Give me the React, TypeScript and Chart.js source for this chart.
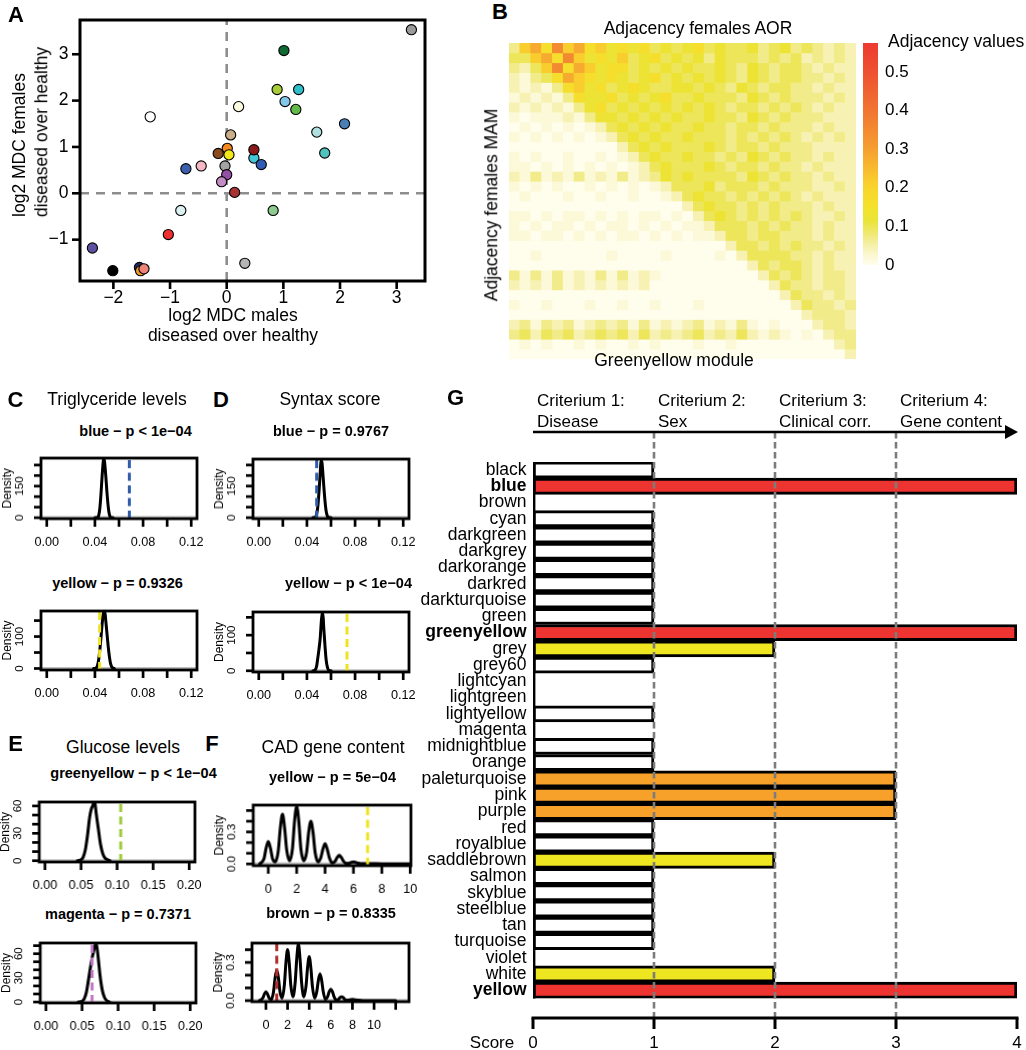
import React, { useEffect, useRef } from 'react';
import { Chart, registerables } from 'chart.js';

Chart.register(...registerables);

const FONT = '"Liberation Sans", Arimo, Arial, Helvetica, sans-serif';
const f = (size: number, bold = false) => `${bold ? 'bold ' : ''}${size}px ${FONT}`;

/* ================= Panel A data ================= */
const moduleNamesA = ['grey', 'darkgreen', 'greenyellow', 'darkturquoise', 'skyblue', 'green', 'lightyellow', 'white', 'steelblue', 'paleturquoise', 'turquoise', 'tan', 'darkorange', 'saddlebrown', 'yellow', 'cyan', 'darkred', 'royalblue', 'blue', 'pink', 'grey60', 'purple', 'violet', 'brown', 'lightcyan', 'lightgreen', 'red', 'magenta', 'black', 'midnightblue', 'orange', 'salmon', 'darkgrey'];
const maleMDC = [3.26, 1.01, 0.89, 1.27, 1.03, 1.22, 0.21, -1.35, 2.08, 1.59, 1.73, 0.07, 0.01, -0.15, 0.04, 0.48, 0.48, 0.61, -0.72, -0.45, -0.03, 0.0, -0.09, 0.14, -0.81, 0.82, -1.03, -2.37, -2.01, -1.54, -1.52, -1.46, 0.32];
const femaleMDC = [3.53, 3.08, 2.24, 2.24, 1.98, 1.81, 1.87, 1.65, 1.5, 1.32, 0.87, 1.26, 0.97, 0.86, 0.83, 0.76, 0.94, 0.62, 0.53, 0.59, 0.59, 0.4, 0.25, 0.02, -0.37, -0.37, -0.89, -1.18, -1.67, -1.6, -1.67, -1.63, -1.51];
const moduleColorsA = ['#9A9A9A', '#0E6A30', '#A6CC38', '#2EBFC9', '#82C8EA', '#62BB47', '#FCFAE0', '#FFFFFF', '#4A7FB5', '#B0DFE2', '#4FC3BC', '#C9AE8A', '#F5891F', '#8A4B1F', '#F4E71A', '#45C6D8', '#8B1A1A', '#2F5DB5', '#3B5EAD', '#F5B7C5', '#A3A3A3', '#9450A5', '#C38CC5', '#A83333', '#DDF1F2', '#8DCA8D', '#EE3030', '#5F4FA0', '#000000', '#1C2B6A', '#F49A2A', '#EF8579', '#B5B5B5'];
const aXTicks = [-2, -1, 0, 1, 2, 3];
const aXTickLabels = ['\u22122', '\u22121', '0', '1', '2', '3'];
const aYTicks = [-1, 0, 1, 2, 3];
const aYTickLabels = ['\u22121', '0', '1', '2', '3'];

/* ================= Panel B data ================= */
// each digit is an adjacency level (index into adjLevels), one string per row of the module
const adjacencyRows = [
  '37869786' + '75656454' + '56454453' + '45343232',
  '44786975' + '65745645' + '45354443' + '43423232',
  '32479687' + '56645454' + '54454354' + '34432322',
  '21346876' + '56545645' + '45454354' + '34433232',
  '21213675' + '64565445' + '54543543' + '44332322',
  '12121365' + '56454564' + '45444354' + '34333232',
  '21212135' + '64545454' + '54543443' + '43432322',
  '10111213' + '55454545' + '44544354' + '34333222',
  '01010101' + '24545454' + '45443443' + '43332322',
  '10101010' + '12454544' + '54443434' + '34323232',
  '00000000' + '00245454' + '44543443' + '43332222',
  '10100100' + '10124544' + '54434354' + '34332322',
  '11010101' + '01012454' + '44543443' + '43323222',
  '21312131' + '21312354' + '54444354' + '34332322',
  '10101001' + '01010124' + '44534443' + '43332232',
  '01000100' + '10010012' + '45443434' + '34323222',
  '00000000' + '00000000' + '24544343' + '43332322',
  '11010110' + '10101101' + '02454343' + '43432232',
  '10101101' + '01101010' + '11244434' + '34332322',
  '11011010' + '10110101' + '01124434' + '43332322',
  '00000000' + '00000000' + '00002443' + '43433232',
  '00100000' + '01000010' + '00010244' + '44332322',
  '00000000' + '00000000' + '00000024' + '34432322',
  '31313121' + '31312100' + '00000002' + '43432332',
  '21213121' + '21212000' + '00000000' + '24332332',
  '00000000' + '00000000' + '00000000' + '02433232',
  '10010001' + '00100100' + '01000000' + '00243323',
  '00000000' + '00000000' + '00000000' + '00023332',
  '23132312' + '32313121' + '23121310' + '10002332',
  '34243423' + '43424232' + '34232421' + '21010233',
  '01010010' + '10010100' + '01001000' + '00000023',
  '00000000' + '00000000' + '00000000' + '00000002',
];
const adjLevels = [0, 0.018, 0.045, 0.07, 0.095, 0.125, 0.165, 0.215, 0.28, 0.35];
const adjScaleMax = 0.575;
const adjTicks = [0, 0.1, 0.2, 0.3, 0.4, 0.5];
const adjTickLabels = ['0', '0.1', '0.2', '0.3', '0.4', '0.5'];
const adjStops: [number, string][] = [
  [0, '#FFFDEB'], [0.03, '#FAF6CC'], [0.06, '#F3EE9C'], [0.09, '#EEE762'], [0.115, '#EAE438'],
  [0.15, '#F3E22C'], [0.2, '#F9D52C'], [0.25, '#F8BA2E'], [0.3, '#F59F31'], [0.4, '#F17531'],
  [0.5, '#EE5131'], [0.575, '#EE3A30'],
];

/* ================= Panels C-F data ================= */
const trigBlueX = [0.04, 0.042, 0.043, 0.044, 0.045, 0.046, 0.047, 0.0475, 0.048, 0.049, 0.05, 0.051, 0.052, 0.053, 0.055];
const trigBlueY = [0, 1, 8, 40, 110, 200, 270, 280, 265, 200, 120, 55, 15, 3, 0];
const trigBlueObs = 0.0686;
const trigYellowX = [0.039, 0.041, 0.042, 0.043, 0.044, 0.045, 0.046, 0.047, 0.0478, 0.0485, 0.049, 0.05, 0.051, 0.052, 0.053, 0.054, 0.056];
const trigYellowY = [0, 2, 8, 25, 55, 95, 140, 172, 178, 170, 150, 110, 70, 38, 15, 5, 0];
const trigYellowObs = 0.0439;
const syntaxBlueX = [0.045, 0.047, 0.048, 0.049, 0.05, 0.051, 0.0518, 0.0525, 0.053, 0.054, 0.055, 0.056, 0.057, 0.058, 0.06];
const syntaxBlueY = [0, 3, 15, 50, 120, 210, 270, 262, 230, 150, 80, 30, 8, 1, 0];
const syntaxBlueObs = 0.0481;
const syntaxYellowX = [0.045, 0.047, 0.048, 0.049, 0.05, 0.051, 0.052, 0.0527, 0.0535, 0.054, 0.055, 0.056, 0.057, 0.058, 0.06];
const syntaxYellowY = [0, 3, 12, 35, 60, 90, 140, 163, 150, 120, 70, 30, 10, 2, 0];
const syntaxYellowObs = 0.0733;
const glucoseGreenyellowX = [0.045, 0.05, 0.053, 0.056, 0.059, 0.062, 0.064, 0.066, 0.068, 0.0695, 0.071, 0.074, 0.077, 0.08, 0.083, 0.087, 0.09];
const glucoseGreenyellowY = [0, 1, 4, 12, 28, 48, 56, 60, 64, 62, 52, 35, 18, 8, 3, 1, 0];
const glucoseGreenyellowObs = 0.105;
const glucoseMagentaX = [0.045, 0.05, 0.053, 0.056, 0.059, 0.062, 0.064, 0.066, 0.068, 0.0695, 0.071, 0.073, 0.075, 0.078, 0.081, 0.084, 0.088];
const glucoseMagentaY = [0, 1, 4, 12, 28, 45, 55, 63, 70, 73, 66, 50, 33, 15, 6, 2, 0];
const glucoseMagentaObs = 0.0639;
const cadYellowX = [-0.6, -0.3, -0.15, 0, 0.15, 0.3, 0.5, 0.7, 0.85, 1, 1.15, 1.3, 1.5, 1.7, 1.85, 2, 2.15, 2.3, 2.5, 2.7, 2.85, 3, 3.15, 3.3, 3.5, 3.7, 3.85, 4, 4.15, 4.3, 4.5, 4.7, 4.85, 5, 5.15, 5.3, 5.5, 5.7, 5.85, 6, 6.15, 6.3, 6.5, 7, 8, 9, 10];
const cadYellowY = [0, 0.05, 0.15, 0.21, 0.15, 0.05, 0.02, 0.12, 0.34, 0.465, 0.34, 0.13, 0.03, 0.14, 0.4, 0.54, 0.4, 0.14, 0.03, 0.11, 0.3, 0.4, 0.3, 0.11, 0.02, 0.06, 0.14, 0.19, 0.14, 0.06, 0.01, 0.025, 0.06, 0.08, 0.06, 0.025, 0.005, 0.008, 0.016, 0.02, 0.016, 0.008, 0.003, 0.003, 0.001, 0, 0];
const cadYellowObs = 7;
const cadBrownX = [-0.6, -0.3, -0.15, 0, 0.15, 0.3, 0.5, 0.7, 0.85, 1, 1.15, 1.3, 1.5, 1.7, 1.85, 2, 2.15, 2.3, 2.5, 2.7, 2.85, 3, 3.15, 3.3, 3.5, 3.7, 3.85, 4, 4.15, 4.3, 4.5, 4.7, 4.85, 5, 5.15, 5.3, 5.5, 5.7, 5.85, 6, 6.15, 6.3, 6.5, 6.7, 6.85, 7, 7.15, 7.3, 7.5, 8, 8.5, 9, 10, 11, 12];
const cadBrownY = [0, 0.02, 0.05, 0.07, 0.05, 0.02, 0.01, 0.07, 0.18, 0.24, 0.18, 0.07, 0.02, 0.12, 0.3, 0.4, 0.3, 0.12, 0.03, 0.14, 0.33, 0.445, 0.33, 0.14, 0.03, 0.11, 0.26, 0.345, 0.26, 0.11, 0.02, 0.07, 0.16, 0.21, 0.16, 0.07, 0.01, 0.03, 0.07, 0.09, 0.07, 0.03, 0.005, 0.01, 0.025, 0.03, 0.025, 0.01, 0.003, 0.01, 0.003, 0, 0, 0, 0];
const cadBrownObs = 1;

const propXTicks = [0, 0.02, 0.04, 0.06, 0.08, 0.1, 0.12];
const propXLabels = ['0.00', '', '0.04', '', '0.08', '', '0.12'];
const glucXTicks = [0, 0.05, 0.1, 0.15, 0.2];
const glucXLabels = ['0.00', '0.05', '0.10', '0.15', '0.20'];
const cadXTicksTop = [0, 2, 4, 6, 8, 10];
const cadXLabelsTop = ['0', '2', '4', '6', '8', '10'];
const cadXTicksBot = [0, 2, 4, 6, 8, 10, 12];
const cadXLabelsBot = ['0', '2', '4', '6', '8', '10', ''];
const dens250Ticks = [0, 50, 100, 150, 200, 250];
const dens250Labels = ['0', '', '', '150', '', ''];
const dens150Ticks = [0, 50, 100, 150];
const dens150Labels = ['0', '', '100', ''];
const dens60Ticks = [0, 10, 20, 30, 40, 50, 60];
const dens60Labels = ['0', '', '', '30', '', '', '60'];
const dens70Ticks = [0, 10, 20, 30, 40, 50, 60, 70];
const dens70Labels = ['0', '', '', '30', '', '', '60', ''];
const cad05Ticks = [0, 0.1, 0.2, 0.3, 0.4, 0.5];
const cad05Labels = ['0.0', '', '', '0.3', '', ''];
const cad04Ticks = [0, 0.1, 0.2, 0.3, 0.4];
const cad04Labels = ['0.0', '', '', '0.3', ''];

/* ================= Panel G data ================= */
const gModules = ['black', 'blue', 'brown', 'cyan', 'darkgreen', 'darkgrey', 'darkorange', 'darkred', 'darkturquoise', 'green', 'greenyellow', 'grey', 'grey60', 'lightcyan', 'lightgreen', 'lightyellow', 'magenta', 'midnightblue', 'orange', 'paleturquoise', 'pink', 'purple', 'red', 'royalblue', 'saddlebrown', 'salmon', 'skyblue', 'steelblue', 'tan', 'turquoise', 'violet', 'white', 'yellow'];
const gScores = [1, 4, 0, 1, 1, 1, 1, 1, 1, 1, 4, 2, 1, 0, 0, 1, 0, 1, 1, 3, 3, 3, 1, 1, 2, 1, 1, 1, 1, 1, 0, 2, 4];
const gBold = ['blue', 'greenyellow', 'yellow'];
const scoreFill = ['#FFFFFF', '#FFFFFF', '#EFE622', '#F7A12B', '#EE3430'];
const criteriaTitles = ['Criterium 1:', 'Criterium 2:', 'Criterium 3:', 'Criterium 4:'];
const criteriaNames = ['Disease', 'Sex', 'Clinical corr.', 'Gene content'];
const scoreTicks = [0, 1, 2, 3, 4];
const scoreTickLabels = ['0', '1', '2', '3', '4'];

/* ================= helpers ================= */
type Box = { L: number; T: number; R: number; B: number };

function hexToRgb(h: string) {
  const n = parseInt(h.slice(1), 16);
  return [(n >> 16) & 255, (n >> 8) & 255, n & 255];
}
function adjColor(v: number) {
  if (v <= adjStops[0][0]) return adjStops[0][1];
  for (let i = 1; i < adjStops.length; i++) {
    if (v <= adjStops[i][0]) {
      const [v0, c0] = adjStops[i - 1];
      const [v1, c1] = adjStops[i];
      const t = (v - v0) / (v1 - v0);
      const a = hexToRgb(c0), b = hexToRgb(c1);
      const m = a.map((x, k) => Math.round(x + (b[k] - x) * t));
      return `rgb(${m[0]},${m[1]},${m[2]})`;
    }
  }
  return adjStops[adjStops.length - 1][1];
}

function padFor(cx: number, cy: number, cw: number, ch: number, b: Box) {
  return { left: b.L - cx, top: b.T - cy, right: cx + cw - b.R, bottom: cy + ch - b.B };
}

function baseOpts(padding: any, scales: any, extra: any = {}) {
  return {
    responsive: false,
    maintainAspectRatio: false,
    animation: false,
    events: [],
    layout: { padding },
    plugins: { legend: { display: false }, tooltip: { enabled: false }, title: { display: false } },
    scales,
    ...extra,
  };
}

function line(ctx: any, x1: number, y1: number, x2: number, y2: number, lw: number, color = '#000', dash: number[] = []) {
  ctx.save();
  ctx.beginPath();
  ctx.setLineDash(dash);
  ctx.lineWidth = lw;
  ctx.strokeStyle = color;
  ctx.lineCap = 'butt';
  ctx.moveTo(x1, y1);
  ctx.lineTo(x2, y2);
  ctx.stroke();
  ctx.restore();
}
function text(ctx: any, s: string, x: number, y: number, font: string, align: CanvasTextAlign = 'center', rot = 0) {
  ctx.save();
  ctx.font = font;
  ctx.fillStyle = '#000';
  ctx.textAlign = align;
  ctx.textBaseline = 'middle';
  ctx.translate(x, y);
  if (rot) ctx.rotate(rot);
  ctx.fillText(s, 0, 0);
  ctx.restore();
}
function frame(ctx: any, a: any, lw: number) {
  ctx.save();
  ctx.lineWidth = lw;
  ctx.strokeStyle = '#000';
  ctx.lineJoin = 'miter';
  ctx.strokeRect(a.left, a.top, a.right - a.left, a.bottom - a.top);
  ctx.restore();
}
function xAxis(chart: any, ticks: number[], labels: string[], len: number, gap: number, font: string, lw: number) {
  const { ctx, chartArea: a } = chart;
  const s = chart.scales.x;
  ticks.forEach((v, i) => {
    const px = s.getPixelForValue(v);
    line(ctx, px, a.bottom, px, a.bottom + len, lw);
    if (labels[i]) text(ctx, labels[i], px, a.bottom + gap, font);
  });
}
function yAxis(chart: any, ticks: number[], labels: string[], len: number, gap: number, font: string, lw: number, rotated: boolean) {
  const { ctx, chartArea: a } = chart;
  const s = chart.scales.y;
  ticks.forEach((v, i) => {
    const py = s.getPixelForValue(v);
    line(ctx, a.left, py, a.left - len, py, lw);
    if (labels[i]) {
      if (rotated) text(ctx, labels[i], a.left - gap, py, font, 'center', -Math.PI / 2);
      else text(ctx, labels[i], a.left - gap, py, font, 'right');
    }
  });
}

function ChartCanvas({ x, y, w, h, make }: { x: number; y: number; w: number; h: number; make: () => any }) {
  const ref = useRef<HTMLCanvasElement>(null);
  useEffect(() => {
    const chart = new Chart(ref.current as HTMLCanvasElement, make());
    return () => chart.destroy();
  }, []);
  return (
    <canvas
      ref={ref}
      width={w}
      height={h}
      style={{ position: 'absolute', left: x, top: y, width: w, height: h, display: 'block' }}
    />
  );
}

function Txt({ x, y, s, size, bold = false, align = 'center', rot = 0 }: any) {
  const tx = align === 'center' ? '-50%' : align === 'right' ? '-100%' : '0%';
  return (
    <div
      style={{
        position: 'absolute',
        left: x,
        top: y,
        transform: `translate(${tx},-50%)${rot ? ` rotate(${rot}deg)` : ''}`,
        font: f(size, bold),
        lineHeight: 1,
        whiteSpace: 'nowrap',
        color: '#000',
      }}
    >
      {s}
    </div>
  );
}

/* ================= Panel A ================= */
const A_CANVAS = { x: 0, y: 0, w: 480, h: 360 };
const A_BOX: Box = { L: 80, T: 20, R: 425, B: 281 };
const A_XR = [-2.589, 3.5];
const A_YR = [-1.892, 3.739];

function makeA() {
  return {
    type: 'scatter',
    data: {
      datasets: [
        {
          data: maleMDC.map((m, i) => ({ x: m, y: femaleMDC[i], name: moduleNamesA[i] })),
          pointBackgroundColor: moduleColorsA,
          backgroundColor: moduleColorsA,
          pointBorderColor: '#000',
          pointBorderWidth: 1.1,
          pointRadius: 5.1,
          showLine: false,
        },
        {
          data: [{ x: 0, y: A_YR[0] }, { x: 0, y: A_YR[1] }],
          showLine: true, pointRadius: 0, borderColor: '#8E8E8E', borderWidth: 2.6, borderDash: [9, 7],
        },
        {
          data: [{ x: A_XR[0], y: 0 }, { x: A_XR[1], y: 0 }],
          showLine: true, pointRadius: 0, borderColor: '#8E8E8E', borderWidth: 2.6, borderDash: [9, 7],
        },
      ],
    },
    options: baseOpts(padFor(A_CANVAS.x, A_CANVAS.y, A_CANVAS.w, A_CANVAS.h, A_BOX), {
      x: { type: 'linear', min: A_XR[0], max: A_XR[1], display: false },
      y: { type: 'linear', min: A_YR[0], max: A_YR[1], display: false },
    }),
    plugins: [
      {
        id: 'aAxes',
        afterDraw(chart: any) {
          frame(chart.ctx, chart.chartArea, 3);
          xAxis(chart, aXTicks, aXTickLabels, 8, 17, f(17.5), 2.6);
          yAxis(chart, aYTicks, aYTickLabels, 8, 11.5, f(17.5), 2.6, false);
        },
      },
    ],
  };
}

/* ================= Panel B ================= */
const HEAT_CANVAS = { x: 500, y: 35, w: 370, h: 335 };
const HEAT_BOX: Box = { L: 509, T: 43, R: 856, B: 359 };
const adjacencyMatrix = adjacencyRows.map((s) => s.split('').map((d) => adjLevels[Number(d)]));
const heatCols = adjacencyMatrix[0].map((_, i) => String(i + 1));

function makeHeat() {
  return {
    type: 'bar',
    data: {
      labels: heatCols,
      datasets: adjacencyMatrix.map((row, r) => ({
        data: row.map(() => [r, r + 1]),
        backgroundColor: row.map((v) => adjColor(v)),
        borderWidth: 0,
        barPercentage: 1,
        categoryPercentage: 1,
        grouped: false,
      })),
    },
    options: baseOpts(padFor(HEAT_CANVAS.x, HEAT_CANVAS.y, HEAT_CANVAS.w, HEAT_CANVAS.h, HEAT_BOX), {
      x: { type: 'category', display: false, offset: true },
      y: { type: 'linear', min: 0, max: adjacencyMatrix.length, reverse: true, display: false },
    }),
  };
}

const CB_CANVAS = { x: 856, y: 35, w: 170, h: 245 };
const CB_BOX: Box = { L: 863, T: 43, R: 878, B: 265 };
function makeColorbar() {
  return {
    type: 'bar',
    data: {
      labels: ['adjacency'],
      datasets: [
        {
          data: [[0, adjScaleMax]],
          backgroundColor: (c: any) => {
            const ch = c.chart;
            const ys = ch.scales && ch.scales.y;
            if (!ys) return '#FFF';
            const y0 = ys.getPixelForValue(0);
            const y1 = ys.getPixelForValue(adjScaleMax);
            if (!isFinite(y0) || !isFinite(y1) || y0 === y1) return '#FFF';
            const g = ch.ctx.createLinearGradient(0, y0, 0, y1);
            adjStops.forEach(([v, col]) => g.addColorStop(Math.min(1, v / adjScaleMax), col));
            return g;
          },
          borderWidth: 0,
          barPercentage: 1,
          categoryPercentage: 1,
        },
      ],
    },
    options: baseOpts(padFor(CB_CANVAS.x, CB_CANVAS.y, CB_CANVAS.w, CB_CANVAS.h, CB_BOX), {
      x: { type: 'category', display: false },
      y: { type: 'linear', min: 0, max: adjScaleMax, display: false },
    }),
    plugins: [
      {
        id: 'cbLabels',
        afterDraw(chart: any) {
          const ys = chart.scales.y;
          adjTicks.forEach((v, i) => text(chart.ctx, adjTickLabels[i], 885 - CB_CANVAS.x, ys.getPixelForValue(v), f(17), 'left'));
        },
      },
    ],
  };
}

/* ================= Panels C-F ================= */
const densitySpecs = [
  { key: 'cTop', box: { L: 40.7, T: 458.3, R: 196.7, B: 519.3 }, x: trigBlueX, y: trigBlueY, obs: trigBlueObs, color: '#2F5DAA', xr: [-0.0048, 0.1248], yr: [-4.7, 283], xt: propXTicks, xl: propXLabels, yt: dens250Ticks, yl: dens250Labels },
  { key: 'cBot', box: { L: 40.5, T: 611, R: 196.5, B: 670 }, x: trigYellowX, y: trigYellowY, obs: trigYellowObs, color: '#EEE31E', xr: [-0.0048, 0.1248], yr: [-4.7, 180], xt: propXTicks, xl: propXLabels, yt: dens150Ticks, yl: dens150Labels },
  { key: 'dTop', box: { L: 253.3, T: 459.3, R: 409.3, B: 519.3 }, x: syntaxBlueX, y: syntaxBlueY, obs: syntaxBlueObs, color: '#2F5DAA', xr: [-0.0048, 0.1248], yr: [-4.7, 278], xt: propXTicks, xl: propXLabels, yt: dens250Ticks, yl: dens250Labels },
  { key: 'dBot', box: { L: 253.3, T: 611.7, R: 409.3, B: 671.7 }, x: syntaxYellowX, y: syntaxYellowY, obs: syntaxYellowObs, color: '#EEE31E', xr: [-0.0048, 0.1248], yr: [-3.4, 165], xt: propXTicks, xl: propXLabels, yt: dens150Ticks, yl: dens150Labels },
  { key: 'eTop', box: { L: 39.3, T: 801.7, R: 195, B: 862.3 }, x: glucoseGreenyellowX, y: glucoseGreenyellowY, obs: glucoseGreenyellowObs, color: '#9DCB3A', xr: [-0.008, 0.208], yr: [-1.4, 64.3], xt: glucXTicks, xl: glucXLabels, yt: dens60Ticks, yl: dens60Labels },
  { key: 'eBot', box: { L: 40, T: 942.7, R: 195.7, B: 1002.7 }, x: glucoseMagentaX, y: glucoseMagentaY, obs: glucoseMagentaObs, color: '#C277C6', xr: [-0.008, 0.208], yr: [-1.2, 73.3], xt: glucXTicks, xl: glucXLabels, yt: dens70Ticks, yl: dens70Labels },
  { key: 'fTop', box: { L: 253.3, T: 805, R: 410.7, B: 865.7 }, x: cadYellowX, y: cadYellowY, obs: cadYellowObs, color: '#EEE31E', xr: [-1.06, 10.05], yr: [-0.016, 0.551], xt: cadXTicksTop, xl: cadXLabelsTop, yt: cad05Ticks, yl: cad05Labels },
  { key: 'fBot', box: { L: 251.7, T: 943.3, R: 409, B: 1001.7 }, x: cadBrownX, y: cadBrownY, obs: cadBrownObs, color: '#B02E2E', xr: [-1.29, 13.23], yr: [-0.008, 0.452], xt: cadXTicksBot, xl: cadXLabelsBot, yt: cad04Ticks, yl: cad04Labels },
];

function densityCanvas(s: any) {
  const b = s.box;
  return { x: b.L - 46, y: b.T - 6, w: b.R - b.L + 62, h: b.B - b.T + 42 };
}

function makeDensity(s: any) {
  const c = densityCanvas(s);
  return {
    type: 'scatter',
    data: {
      datasets: [
        {
          data: [{ x: s.obs, y: s.yr[0] }, { x: s.obs, y: s.yr[1] }],
          showLine: true, pointRadius: 0, borderColor: s.color, borderWidth: 3, borderDash: [8, 4.5],
        },
        {
          data: s.x.map((v: number, i: number) => ({ x: v, y: s.y[i] })),
          showLine: true, pointRadius: 0, borderColor: '#000', borderWidth: 3,
          cubicInterpolationMode: 'monotone', borderJoinStyle: 'round', borderCapStyle: 'round',
        },
        {
          data: [{ x: s.xr[0], y: 0 }, { x: s.xr[1], y: 0 }],
          showLine: true, pointRadius: 0, borderColor: '#BEBEBE', borderWidth: 3,
        },
      ],
    },
    options: baseOpts(padFor(c.x, c.y, c.w, c.h, s.box), {
      x: { type: 'linear', min: s.xr[0], max: s.xr[1], display: false },
      y: { type: 'linear', min: s.yr[0], max: s.yr[1], display: false },
    }),
    plugins: [
      {
        id: 'densAxes',
        afterDraw(chart: any) {
          const a = chart.chartArea;
          frame(chart.ctx, a, 2.8);
          xAxis(chart, s.xt, s.xl, 8, 23, f(12.7), 2.7);
          yAxis(chart, s.yt, s.yl, 7, 21, f(11.5), 2.7, true);
          text(chart.ctx, 'Density', a.left - 33, (a.top + a.bottom) / 2, f(12), 'center', -Math.PI / 2);
        },
      },
    ],
  };
}

/* ================= Panel G ================= */
const G_CANVAS = { x: 420, y: 380, w: 606, h: 670 };
const G_BOX: Box = { L: 533, T: 461.9, R: 1017, B: 998.4 };

function makeG() {
  const ox = G_CANVAS.x, oy = G_CANVAS.y;
  return {
    type: 'bar',
    data: {
      labels: gModules,
      datasets: [
        {
          data: gScores,
          backgroundColor: gScores.map((s) => scoreFill[s]),
          borderColor: '#000',
          borderWidth: 3,
          borderSkipped: false,
          barPercentage: 1,
          categoryPercentage: 1,
        },
      ],
    },
    options: baseOpts(padFor(G_CANVAS.x, G_CANVAS.y, G_CANVAS.w, G_CANVAS.h, G_BOX), {
      x: { type: 'linear', min: 0, max: 4, display: false },
      y: { type: 'category', display: false, offset: true },
    }, { indexAxis: 'y' }),
    plugins: [
      {
        id: 'gDeco',
        afterDatasetsDraw(chart: any) {
          const { ctx, chartArea: a } = chart;
          const xs = chart.scales.x;
          const ys = chart.scales.y;
          const yArrow = 432 - oy;
          const yAxisLine = 1018 - oy;
          const x0 = xs.getPixelForValue(0);
          const x4 = xs.getPixelForValue(4);
          line(ctx, x0 + 1.2, a.top, x0 + 1.2, a.bottom, 2.4);
          [1, 2, 3].forEach((v) => {
            const px = xs.getPixelForValue(v);
            line(ctx, px, yArrow, px, yAxisLine, 2.6, '#7C7C7C', [6.5, 3.5]);
          });
          line(ctx, x0, yArrow, x4 - 8, yArrow, 2.6);
          ctx.save();
          ctx.fillStyle = '#000';
          ctx.beginPath();
          ctx.moveTo(x4 - 12, yArrow - 7);
          ctx.lineTo(x4 + 1, yArrow);
          ctx.lineTo(x4 - 12, yArrow + 7);
          ctx.closePath();
          ctx.fill();
          ctx.restore();
          criteriaTitles.forEach((t, i) => {
            const px = xs.getPixelForValue(i) + 4;
            text(ctx, t, px, 401 - oy, f(17), 'left');
            text(ctx, criteriaNames[i], px, 422 - oy, f(17), 'left');
          });
          gModules.forEach((m, i) => {
            text(ctx, m, x0 - 6.5, ys.getPixelForValue(i), f(17.5, gBold.includes(m)), 'right');
          });
          line(ctx, x0 - 1.5, yAxisLine, x4 + 1.5, yAxisLine, 3);
          scoreTicks.forEach((v, i) => {
            const px = xs.getPixelForValue(v);
            line(ctx, px, yAxisLine, px, yAxisLine + 11, 3);
            text(ctx, scoreTickLabels[i], px, 1043 - oy, f(17));
          });
          text(ctx, 'Score', 492 - ox, 1043 - oy, f(17));
        },
      },
    ],
  };
}

/* ================= App ================= */
const densityTitles = [
  { x: 135.5, y: 431, s: 'blue \u2212 p < 1e\u221204' },
  { x: 117.5, y: 582.7, s: 'yellow \u2212 p = 0.9326' },
  { x: 331, y: 431, s: 'blue \u2212 p = 0.9767' },
  { x: 348.5, y: 583, s: 'yellow \u2212 p < 1e\u221204' },
  { x: 133.5, y: 772.7, s: 'greenyellow \u2212 p < 1e\u221204' },
  { x: 118, y: 914, s: 'magenta \u2212 p = 0.7371' },
  { x: 332.5, y: 776.7, s: 'yellow \u2212 p = 5e\u221204' },
  { x: 331, y: 913.3, s: 'brown \u2212 p = 0.8335' },
];

export default function App() {
  return (
    <div
      style={{
        position: 'fixed', left: 0, top: 0, width: 1026, height: 1050,
        background: '#FFFFFF', overflow: 'hidden', fontFamily: FONT,
      }}
    >
      <ChartCanvas x={A_CANVAS.x} y={A_CANVAS.y} w={A_CANVAS.w} h={A_CANVAS.h} make={makeA} />
      <ChartCanvas x={HEAT_CANVAS.x} y={HEAT_CANVAS.y} w={HEAT_CANVAS.w} h={HEAT_CANVAS.h} make={makeHeat} />
      <ChartCanvas x={CB_CANVAS.x} y={CB_CANVAS.y} w={CB_CANVAS.w} h={CB_CANVAS.h} make={makeColorbar} />
      {densitySpecs.map((s) => {
        const c = densityCanvas(s);
        return <ChartCanvas key={s.key} x={c.x} y={c.y} w={c.w} h={c.h} make={() => makeDensity(s)} />;
      })}
      <ChartCanvas x={G_CANVAS.x} y={G_CANVAS.y} w={G_CANVAS.w} h={G_CANVAS.h} make={makeG} />

      {/* panel letters */}
      <Txt x={16} y={15} s="A" size={22} bold />
      <Txt x={500} y={12} s="B" size={22} bold />
      <Txt x={15.5} y={400} s="C" size={22} bold />
      <Txt x={221} y={400} s="D" size={22} bold />
      <Txt x={15.5} y={743.5} s="E" size={22} bold />
      <Txt x={212} y={743.5} s="F" size={22} bold />
      <Txt x={455.5} y={398} s="G" size={22} bold />

      {/* panel A titles */}
      <Txt x={233} y={316} s="log2 MDC males" size={17.5} />
      <Txt x={233} y={336} s="diseased over healthy" size={17.5} />
      <Txt x={20} y={145} s="log2 MDC females" size={17.5} rot={-90} />
      <Txt x={42} y={132} s="diseased over healthy" size={17.5} rot={-90} />

      {/* panel B titles */}
      <Txt x={698} y={29} s="Adjacency females AOR" size={17.5} />
      <Txt x={492} y={205} s="Adjacency females MAM" size={17.5} rot={-90} />
      <Txt x={674} y={361} s="Greenyellow module" size={17.5} />
      <Txt x={888} y={42} s="Adjacency values" size={17.5} align="left" />

      {/* panels C-F titles */}
      <Txt x={117} y={400} s="Triglyceride levels" size={17.5} />
      <Txt x={330} y={400} s="Syntax score" size={17.5} />
      <Txt x={123} y={748} s="Glucose levels" size={17.5} />
      <Txt x={333} y={748} s="CAD gene content" size={17.5} />
      {densityTitles.map((t) => (
        <Txt key={t.s + t.y} x={t.x} y={t.y} s={t.s} size={14.5} bold />
      ))}
    </div>
  );
}
